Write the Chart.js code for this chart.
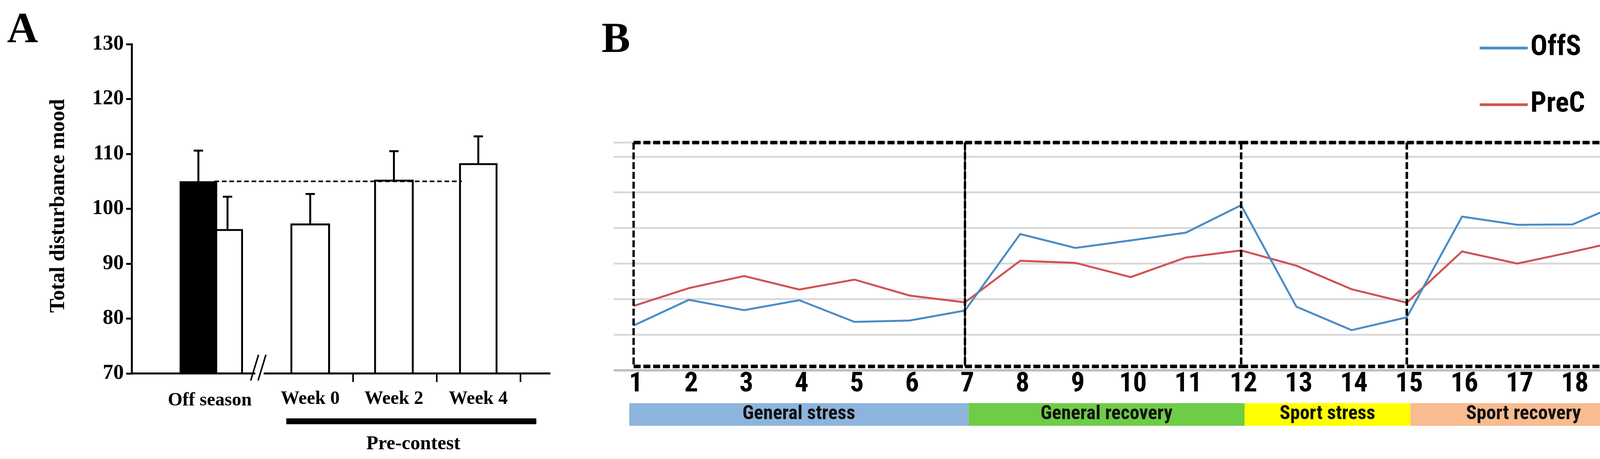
<!DOCTYPE html>
<html><head><meta charset="utf-8">
<script src="https://cdn.jsdelivr.net/npm/chart.js@4"></script>
<style>body{margin:0;background:#fff;width:4288px;height:1175px;position:relative;overflow:hidden}
#a{position:absolute;left:0;top:0}#b{position:absolute;left:1500px;top:0}</style></head>
<body><canvas id="a" width="1500" height="1175"></canvas><canvas id="b" width="2788" height="1175"></canvas>
<script>
// Panel A data
const barLabels = ["Off season","","Week 0","Week 2","Week 4"];
const barValues = [105, 96.3, 97.3, 105.3, 108.3];
const barErrors = [5.6, 5.9, 5.4, 5.2, 4.9];
const yTicksA = [70,80,90,100,110,120,130];
// Panel B data
const sessions = ["1","2","3","4","5","6","7","8","9","10","11","12","13","14","15","16","17","18","19"];
const offS = [1.26,1.98,1.69,1.97,1.36,1.40,1.68,3.83,3.44,3.65,3.87,4.64,1.79,1.13,1.49,4.32,4.09,4.10,4.76];
const preC = [1.81,2.31,2.65,2.27,2.55,2.10,1.91,3.08,3.02,2.62,3.17,3.37,2.94,2.28,1.90,3.34,3.00,3.33,3.68];
const phases = ["General stress","General recovery","Sport stress","Sport recovery"];
const phaseBounds = [1,7,12,15,19];

const serif = "'Liberation Serif','Times New Roman',serif";
const barX = [110,197,444,694,946];
const barW = [96,79,101,101,98];
const barFill = ['#000','#fff','#fff','#fff','#fff'];
const dsA = barValues.map((v,i)=>({data:[{x:barX[i],y:v}],backgroundColor:barFill[i],borderColor:'#000',borderWidth:5,barThickness:barW[i],grouped:false,borderSkipped:false}));

const plugA = {id:'pa',afterDatasetsDraw(c){
  const ctx=c.ctx,x=c.scales.x,y=c.scales.y,ca=c.chartArea;
  ctx.save();ctx.strokeStyle='#000';ctx.fillStyle='#000';
  barValues.forEach((v,i)=>{const px=x.getPixelForValue(barX[i]);ctx.lineWidth=5;
    ctx.beginPath();ctx.moveTo(px,y.getPixelForValue(v));ctx.lineTo(px,y.getPixelForValue(v+barErrors[i]));ctx.stroke();
    ctx.beginPath();ctx.moveTo(px-12,y.getPixelForValue(v+barErrors[i]));ctx.lineTo(px+12,y.getPixelForValue(v+barErrors[i]));ctx.stroke();});
  ctx.setLineDash([12,7]);ctx.lineWidth=4;ctx.beginPath();
  const yr=y.getPixelForValue(barValues[0]);
  ctx.moveTo(x.getPixelForValue(barX[0]+barW[0]/2),yr);ctx.lineTo(x.getPixelForValue(barX[4]-barW[4]/2),yr);ctx.stroke();ctx.setLineDash([]);
  const by=ca.bottom;ctx.lineWidth=5;
  ctx.beginPath();ctx.moveTo(ca.left,by);ctx.lineTo(x.getPixelForValue(280),by);ctx.moveTo(x.getPixelForValue(305),by);ctx.lineTo(ca.right,by);ctx.stroke();
  ctx.lineWidth=4;ctx.beginPath();
  [278,300].forEach(b=>{ctx.moveTo(x.getPixelForValue(b)-10,by+18);ctx.lineTo(x.getPixelForValue(b)+10,by-48);});ctx.stroke();
  ctx.lineWidth=4;ctx.beginPath();[572,822,ca.right-ca.left].forEach(t=>{ctx.moveTo(x.getPixelForValue(t),by);ctx.lineTo(x.getPixelForValue(t),by+22);});ctx.stroke();
  ctx.font='bold 48px '+serif;ctx.textAlign='center';ctx.textBaseline='middle';
  ctx.fillText(barLabels[0],x.getPixelForValue(144),1026);
  [2,3,4].forEach(i=>ctx.fillText(barLabels[i],x.getPixelForValue(barX[i]),1022));
  ctx.fillRect(733,1071,640,15);
  ctx.font='bold 50px '+serif;ctx.fillText('Pre-contest',1058,1137);
  ctx.save();ctx.translate(150,527);ctx.rotate(-Math.PI/2);ctx.font='bold 54px '+serif;ctx.fillText('Total disturbance mood',0,0);ctx.restore();
  ctx.font='bold 110px '+serif;ctx.textAlign='left';ctx.fillText('A',18,80);
  ctx.restore();}};

new Chart(document.getElementById('a'),{type:'bar',data:{datasets:dsA},
 options:{responsive:false,animation:false,events:[],plugins:{legend:{display:false},tooltip:{enabled:false}},
 layout:{padding:{left:0,top:113,right:1500-1409,bottom:1175-956}},
 scales:{x:{type:'linear',min:0,max:1072,display:false},
  y:{min:70,max:130,afterFit(s){s.width=337;},afterBuildTicks(s){s.ticks=yTicksA.map(v=>({value:v}));},
   grid:{drawOnChartArea:false,tickLength:14,color:'#000',lineWidth:5},border:{color:'#000',width:5},
   ticks:{color:'#000',font:{family:serif,weight:'bold',size:54},padding:6}}}},plugins:[plugA]});

const narrow="'Liberation Sans Narrow','Roboto Condensed','Liberation Sans',sans-serif";
const plugB={id:'pb',beforeDatasetsDraw(c){
  const ctx=c.ctx,x=c.scales.x,y=c.scales.y;ctx.save();
  ctx.strokeStyle='#d9d9d9';ctx.lineWidth=5;
  [1,2,3,4,5,6,6.4].forEach(v=>{ctx.beginPath();ctx.moveTo(71,y.getPixelForValue(v));ctx.lineTo(2743,y.getPixelForValue(v));ctx.stroke();});
  ctx.strokeStyle='#bfbfbf';ctx.lineWidth=6;ctx.beginPath();ctx.moveTo(71,y.getPixelForValue(0));ctx.lineTo(2743,y.getPixelForValue(0));ctx.stroke();
  ctx.restore();},
 afterDatasetsDraw(c){
  const ctx=c.ctx,x=c.scales.x,y=c.scales.y;ctx.save();
  const yt=y.getPixelForValue(6.4),yb=y.getPixelForValue(0.11);
  ctx.strokeStyle='#000';ctx.lineWidth=9;ctx.setLineDash([18,7]);
  for(let k=0;k<4;k++){const l=x.getPixelForValue(phaseBounds[k]-1),r=x.getPixelForValue(phaseBounds[k+1]-1);
    ctx.beginPath();ctx.moveTo(l,yt);ctx.lineTo(r,yt);ctx.moveTo(l,yb);ctx.lineTo(r,yb);ctx.stroke();
    ctx.lineWidth=6;ctx.beginPath();ctx.moveTo(r,yt);ctx.lineTo(r,yb);
    if(k!==1){ctx.moveTo(l,yt);ctx.lineTo(l,yb);}ctx.stroke();ctx.lineWidth=9;}
  ctx.setLineDash([]);ctx.lineWidth=4;const p7=x.getPixelForValue(6);ctx.beginPath();ctx.moveTo(p7,yt);ctx.lineTo(p7,yb);ctx.stroke();
  ctx.fillStyle='#000';ctx.font='bold 70px '+narrow;ctx.textAlign='center';ctx.textBaseline='middle';
  sessions.forEach((s,i)=>ctx.fillText(s,x.getPixelForValue(i)+6,984));
  const cols=['#8db4dc','#6fcc47','#ffff00','#f9bb90'];
  for(let k=0;k<4;k++){const l=k==0?x.getPixelForValue(0)-11:x.getPixelForValue(phaseBounds[k]-1)+9;
    const r=k==3?x.getPixelForValue(18)+23:x.getPixelForValue(phaseBounds[k+1]-1)+9;
    ctx.fillStyle=cols[k];ctx.fillRect(l,1032,r-l,58);ctx.fillStyle='#111';ctx.font='bold 50px '+narrow;ctx.fillText(phases[k],(l+r)/2,1060);}
  ctx.lineWidth=7;ctx.strokeStyle='#4a8cc6';ctx.beginPath();ctx.moveTo(2288,123);ctx.lineTo(2411,123);ctx.stroke();
  ctx.strokeStyle='#d05252';ctx.beginPath();ctx.moveTo(2288,268);ctx.lineTo(2411,268);ctx.stroke();
  ctx.fillStyle='#000';ctx.textAlign='left';ctx.font='bold 72px '+narrow;ctx.fillText('OffS',2418,123);ctx.fillText('PreC',2418,268);
  ctx.font='bold 110px '+serif;ctx.fillText('B',40,105);
  ctx.restore();}};
new Chart(document.getElementById('b'),{type:'line',data:{labels:sessions,datasets:[
  {data:offS,borderColor:'#4a8cc6',borderWidth:5,pointRadius:0,tension:0},
  {data:preC,borderColor:'#d05252',borderWidth:5,pointRadius:0,tension:0}]},
 options:{responsive:false,animation:false,events:[],plugins:{legend:{display:false},tooltip:{enabled:false}},
 layout:{padding:{left:122,right:121,top:365,bottom:227}},
 scales:{x:{display:false,offset:false},y:{display:false,min:0,max:6.4}}},plugins:[plugB]});
</script></body></html>
